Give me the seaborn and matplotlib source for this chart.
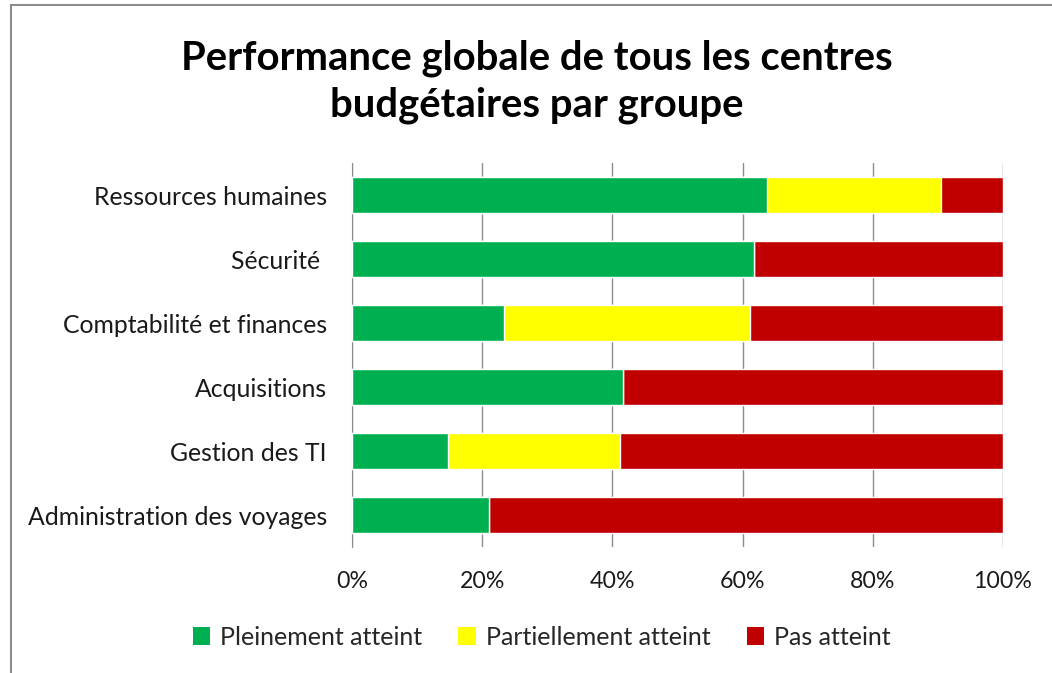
import numpy as np
import pandas as pd
import matplotlib
matplotlib.use('Agg')
import matplotlib.pyplot as plt
import seaborn as sns
from matplotlib.patches import Patch, Rectangle

categories = ['Ressources humaines', 'Sécurité ', 'Comptabilité et finances',
              'Acquisitions', 'Gestion des TI', 'Administration des voyages']
pleinement = [63.8, 61.8, 23.3, 41.6, 14.7, 21.1]
partiellement = [26.7, 0.0, 37.9, 0.0, 26.5, 0.0]
pas_atteint = [9.5, 38.2, 38.8, 58.4, 58.8, 78.9]
series_names = ['Pleinement atteint', 'Partiellement atteint', 'Pas atteint']
colors = ['#00B050', '#FFFF00', '#C00000']
xticks = [0, 20, 40, 60, 80, 100]

sns.set_style('white')
plt.rcParams['font.family'] = ['Lato', 'DejaVu Sans']

df = pd.DataFrame({'cat': categories, 'g': pleinement, 'y': partiellement, 'r': pas_atteint})
df['cum_g'] = df['g']
df['cum_y'] = df['g'] + df['y']
df['cum_r'] = df['g'] + df['y'] + df['r']

fig = plt.figure(figsize=(10.52, 6.73), dpi=100)
ax = fig.add_axes([0.3346, 0.1872, 0.6188, 0.5706])

# stacked bars drawn from the largest cumulative value down
for col, c in zip(['cum_r', 'cum_y', 'cum_g'], colors[::-1]):
    sns.barplot(data=df, x=col, y='cat', orient='h', color=c, width=0.55,
                saturation=1, ax=ax, zorder=3)

ax.set_xlim(0, 100)
ax.set_ylim(5.5, -0.5)
ax.set_xticks(xticks)
ax.set_xticklabels([f'{t}%' for t in xticks], fontsize=16.7, color='#1a1a1a')
ax.tick_params(axis='y', labelsize=17.8, labelcolor='#1a1a1a', length=0, pad=18)
ax.tick_params(axis='x', length=0, pad=17)
ax.set_xlabel('')
ax.set_ylabel('')
ax.grid(axis='x', color='#8c8c8c', linewidth=1, zorder=0)
for s in ['top', 'right', 'bottom']:
    ax.spines[s].set_visible(False)
ax.spines['left'].set_color('#8c8c8c')
ax.set_axisbelow(True)

fig.text(0.51, 0.879, 'Performance globale de tous les centres\nbudgétaires par groupe',
         ha='center', va='center', fontsize=28.8, fontweight='bold', linespacing=1.32,
         color='black')

handles = [Patch(facecolor=c, edgecolor='none', label=n) for c, n in zip(colors, series_names)]
fig.legend(handles=handles, loc='center', bbox_to_anchor=(0.515, 0.053), ncol=3, frameon=False,
           fontsize=18, handlelength=0.7, handleheight=0.7, handletextpad=0.4, columnspacing=1.45)

fig.patches.append(Rectangle((0.0105, -0.05), 1.1, 1.0426, transform=fig.transFigure,
                             fill=False, edgecolor='#8c8c8c', linewidth=1.5))

fig.savefig('out.png', dpi=100)
